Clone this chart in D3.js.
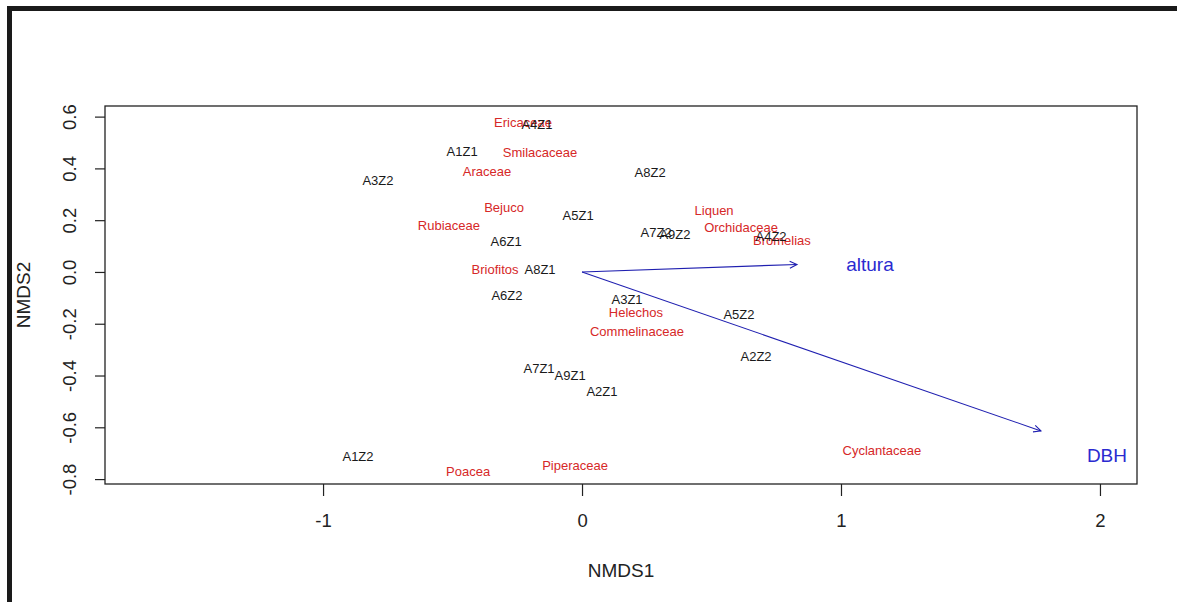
<!DOCTYPE html>
<html>
<head>
<meta charset="utf-8">
<script src="https://cdn.jsdelivr.net/npm/d3@7"></script>
<style>
  html, body { margin: 0; padding: 0; background: #fff; }
  svg { display: block; font-family: "Liberation Sans", Arial, sans-serif; }
</style>
</head>
<body>
<svg id="chart" width="1177" height="602"></svg>
<script>
// ---- Data ----
const siteNames = ["A4Z1","A1Z1","A3Z2","A8Z2","A5Z1","A6Z1","A7Z2","A9Z2","A4Z2","A8Z1","A6Z2","A3Z1","A5Z2","A2Z2","A7Z1","A9Z1","A2Z1","A1Z2"];
const siteX = [-0.174,-0.463,-0.788,0.263,-0.015,-0.293,0.286,0.359,0.730,-0.162,-0.290,0.174,0.606,0.672,-0.166,-0.046,0.077,-0.865];
const siteY = [0.568,0.467,0.355,0.386,0.220,0.116,0.151,0.143,0.139,0.008,-0.089,-0.108,-0.166,-0.328,-0.371,-0.398,-0.463,-0.714];

const speciesNames = ["Ericaceae","Smilacaceae","Araceae","Bejuco","Rubiaceae","Briofitos","Liquen","Orchidaceae","Bromelias","Helechos","Commelinaceae","Cyclantaceae","Piperaceae","Poacea"];
const speciesX = [-0.228,-0.162,-0.367,-0.301,-0.514,-0.336,0.510,0.614,0.772,0.208,0.212,1.158,-0.027,-0.440];
const speciesY = [0.579,0.463,0.390,0.251,0.178,0.008,0.239,0.170,0.120,-0.158,-0.228,-0.691,-0.749,-0.772];

const vectorNames = ["altura","DBH"];
const vectorX = [0.830, 1.772];
const vectorY = [0.029, -0.614];
const vectorLabelX = [1.112, 2.027];
const vectorLabelY = [0.031, -0.707];

const xTicks = [-1, 0, 1, 2];
const yTicks = [-0.8, -0.6, -0.4, -0.2, 0.0, 0.2, 0.4, 0.6];
const xTitle = "NMDS1";
const yTitle = "NMDS2";

// ---- Layout ----
const box = { left: 105, right: 1137, top: 106, bottom: 484 };
const svg = d3.select("#chart");

// outer frame bars (from the scanned figure)
svg.append("rect").attr("x", 7).attr("y", 6).attr("width", 1170).attr("height", 5).attr("fill", "#1a1a1a");
svg.append("rect").attr("x", 7).attr("y", 6).attr("width", 5).attr("height", 596).attr("fill", "#1a1a1a");

const x = d3.scaleLinear().domain([-1.842, 2.143]).range([box.left, box.right]);
const y = d3.scaleLinear().domain([-0.819, 0.641]).range([box.bottom, box.top]);

const fmtY = v => d3.format(".1f")(v).replace("\u2212", "-");
const fmtX = v => String(v);

// X axis
const gx = svg.append("g")
  .attr("transform", `translate(0,${box.bottom})`)
  .call(d3.axisBottom(x).tickValues(xTicks).tickSize(12).tickFormat(fmtX));
gx.select(".domain").remove();
gx.selectAll(".tick line").attr("stroke", "#222").attr("stroke-width", 1.2);
gx.selectAll(".tick text")
  .attr("y", 37).attr("dy", "0.35em")
  .attr("fill", "#222").style("font-size", "18.5px")
  .style("font-family", '"Liberation Sans", Arial, sans-serif');

// Y axis
const gy = svg.append("g")
  .attr("transform", `translate(${box.left},0)`)
  .call(d3.axisLeft(y).tickValues(yTicks).tickSize(10).tickFormat(fmtY));
gy.select(".domain").remove();
gy.selectAll(".tick line").attr("stroke", "#222").attr("stroke-width", 1.2);
gy.selectAll(".tick text")
  .attr("transform", "rotate(-90)")
  .attr("x", 0).attr("y", -35).attr("dy", "0.35em")
  .attr("text-anchor", "middle")
  .attr("fill", "#222").style("font-size", "18.5px")
  .style("font-family", '"Liberation Sans", Arial, sans-serif');

// plot box
svg.append("rect")
  .attr("x", box.left).attr("y", box.top)
  .attr("width", box.right - box.left).attr("height", box.bottom - box.top)
  .attr("fill", "none").attr("stroke", "#222").attr("stroke-width", 1.3);

// axis titles
svg.append("text")
  .attr("x", (box.left + box.right) / 2).attr("y", 570).attr("dy", "0.35em")
  .attr("text-anchor", "middle").attr("fill", "#222").style("font-size", "19px")
  .text(xTitle);
svg.append("text")
  .attr("transform", `translate(23,${(box.top + box.bottom) / 2}) rotate(-90)`)
  .attr("dy", "0.35em")
  .attr("text-anchor", "middle").attr("fill", "#222").style("font-size", "19px")
  .text(yTitle);

// species labels (red)
const species = speciesNames.map((n, i) => ({ n, x: speciesX[i], y: speciesY[i] }));
svg.append("g").selectAll("text").data(species).join("text")
  .attr("x", d => x(d.x)).attr("y", d => y(d.y)).attr("dy", "0.35em")
  .attr("text-anchor", "middle").attr("fill", "#d62828").style("font-size", "13px")
  .text(d => d.n);

// site labels (black)
const sites = siteNames.map((n, i) => ({ n, x: siteX[i], y: siteY[i] }));
svg.append("g").selectAll("text").data(sites).join("text")
  .attr("x", d => x(d.x)).attr("y", d => y(d.y)).attr("dy", "0.35em")
  .attr("text-anchor", "middle").attr("fill", "#1a1a1a").style("font-size", "13px")
  .text(d => d.n);

// environmental vectors (blue arrows)
const vecs = vectorNames.map((n, i) => ({ n, x: vectorX[i], y: vectorY[i], lx: vectorLabelX[i], ly: vectorLabelY[i] }));
const gv = svg.append("g");
const headLen = 8, headAng = Math.PI / 7;
vecs.forEach(d => {
  const x0 = x(0), y0 = y(0), x1 = x(d.x), y1 = y(d.y);
  const a = Math.atan2(y1 - y0, x1 - x0);
  gv.append("line").attr("x1", x0).attr("y1", y0).attr("x2", x1).attr("y2", y1)
    .attr("stroke", "#1f1fb0").attr("stroke-width", 1.1);
  const p = d3.path();
  p.moveTo(x1 - headLen * Math.cos(a - headAng), y1 - headLen * Math.sin(a - headAng));
  p.lineTo(x1, y1);
  p.lineTo(x1 - headLen * Math.cos(a + headAng), y1 - headLen * Math.sin(a + headAng));
  gv.append("path").attr("d", p.toString()).attr("fill", "none")
    .attr("stroke", "#1f1fb0").attr("stroke-width", 1.1);
  gv.append("text").attr("x", x(d.lx)).attr("y", y(d.ly)).attr("dy", "0.35em")
    .attr("text-anchor", "middle").attr("fill", "#2a2ad0").style("font-size", "19px")
    .text(d.n);
});
</script>
</body>
</html>
